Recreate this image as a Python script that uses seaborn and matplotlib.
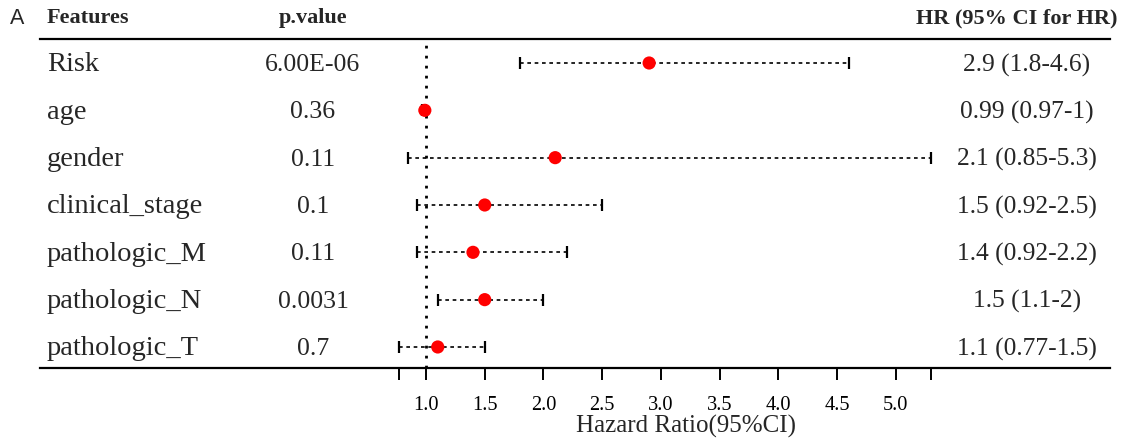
import matplotlib
matplotlib.use("Agg")
import matplotlib.pyplot as plt
import matplotlib.transforms as mtransforms
import seaborn as sns
import pandas as pd
import numpy as np

features = ["Risk", "age", "gender", "clinical_stage", "pathologic_M", "pathologic_N", "pathologic_T"]
p_values = ["6.00E-06", "0.36", "0.11", "0.1", "0.11", "0.0031", "0.7"]
hr = [2.9, 0.99, 2.1, 1.5, 1.4, 1.5, 1.1]
lower = [1.8, 0.97, 0.85, 0.92, 0.92, 1.1, 0.77]
upper = [4.6, 1.0, 5.3, 2.5, 2.2, 2.0, 1.5]
hr_labels = ["2.9 (1.8-4.6)", "0.99 (0.97-1)", "2.1 (0.85-5.3)", "1.5 (0.92-2.5)",
             "1.4 (0.92-2.2)", "1.5 (1.1-2)", "1.1 (0.77-1.5)"]
tick_values = [1.0, 1.5, 2.0, 2.5, 3.0, 3.5, 4.0, 4.5, 5.0]

df = pd.DataFrame({"feature": features, "hr": hr, "lower": lower, "upper": upper})
df["row"] = np.arange(len(df))

sns.set_theme(style="white")
plt.rcParams["font.family"] = ["Liberation Serif", "DejaVu Serif"]

W, H = 1125, 441
fig = plt.figure(figsize=(W / 100, H / 100), dpi=100)
ax_left, ax_right = 40, 1110
ax_top, ax_bottom = 39, 368
ax = fig.add_axes([ax_left / W, 1 - ax_bottom / H, (ax_right - ax_left) / W, (ax_bottom - ax_top) / H])

# x mapping: data range min(lower)..max(upper) occupies pixels 399..931
xmin, xmax = min(lower), max(upper)
px0, px1 = 399, 931
scale = (xmax - xmin) / (px1 - px0)
ax.set_xlim(xmin - (px0 - ax_left) * scale, xmax + (ax_right - px1) * scale)

# y mapping: row 0 at pixel 63, row spacing 47.33
r0, dr = 63, 47.33
ax.set_ylim((ax_bottom - r0) / dr, (ax_top - r0) / dr)

# reference line
ax.axvline(1.0, color="black", lw=2.0, linestyle=(0, (1.0, 2.6)), zorder=1)

# CI bars
eb = ax.errorbar(df["hr"], df["row"],
                 xerr=[df["hr"] - df["lower"], df["upper"] - df["hr"]],
                 fmt="none", ecolor="black", elinewidth=1.2, capsize=4.3, capthick=1.6, zorder=2)
for lc in eb[2]:
    lc.set_linestyle((0, (2.2, 2.2)))

sns.scatterplot(data=df, x="hr", y="row", color="#ff0000", s=90, edgecolor="none", ax=ax, zorder=3)

# spines
for s in ["left", "right"]:
    ax.spines[s].set_visible(False)
for s in ["top", "bottom"]:
    ax.spines[s].set_visible(True)
    ax.spines[s].set_color("black")
    ax.spines[s].set_linewidth(1.6)

all_ticks = [xmin] + tick_values + [xmax]
ax.set_xticks(all_ticks)
ax.set_xticklabels([""] + [f"{v:.1f}" for v in tick_values] + [""], fontsize=14.7)
ax.tick_params(axis="x", direction="out", length=8.5, width=1.4, pad=12, bottom=True, top=False, colors="black")
ax.set_yticks([])
ax.set_xlabel("Hazard Ratio(95%CI)", fontsize=18)
ax.xaxis.set_label_coords((686 - ax_left) / (ax_right - ax_left), -(426 - ax_bottom) / (ax_bottom - ax_top), transform=ax.transAxes)
ax.xaxis.label.set_va("center")
ax.set_ylabel("")

tr = mtransforms.offset_copy(ax.get_yaxis_transform(), fig=fig, x=0, y=-2, units="dots")
def fx(px):
    return (px - ax_left) / (ax_right - ax_left)

for i in range(len(features)):
    ax.text(fx(47), i, features[i], transform=tr, ha="left", va="center", fontsize=20.5, clip_on=False)
    ax.text(fx(313), i, p_values[i], transform=tr, ha="center", va="center", fontsize=18.5, clip_on=False)
    ax.text(fx(1027), i, hr_labels[i], transform=tr, ha="center", va="center", fontsize=18.4, clip_on=False)

hy = (ax_bottom - 18) / (ax_bottom - ax_top)
ax.text(fx(47), hy, "Features", transform=ax.transAxes, ha="left", va="center", fontsize=16, fontweight="bold")
ax.text(fx(313), hy, "p.value", transform=ax.transAxes, ha="center", va="center", fontsize=16, fontweight="bold")
ax.text(fx(1118), hy, "HR (95% CI for HR)", transform=ax.transAxes, ha="right", va="center", fontsize=16, fontweight="bold")
fig.text(10 / W, 1 - 18 / H, "A", ha="left", va="center", fontsize=15.5, family=["Liberation Sans", "DejaVu Sans"])

fig.savefig("out.png", dpi=100)
